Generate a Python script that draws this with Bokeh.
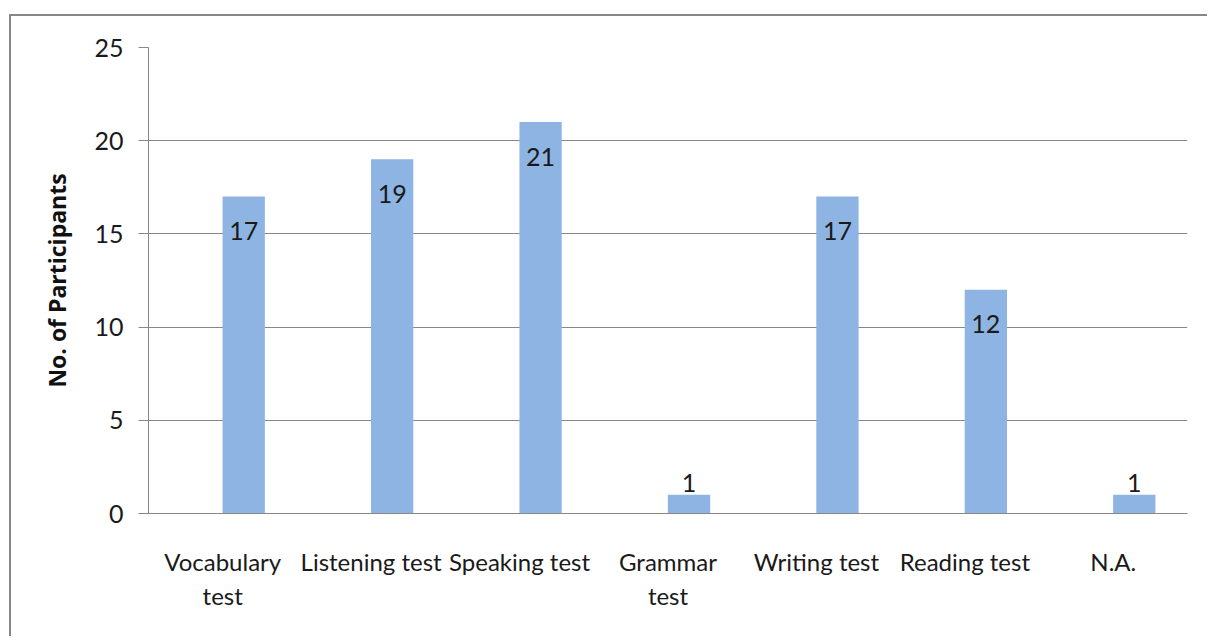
from bokeh.plotting import figure
from bokeh.models import ColumnDataSource, FixedTicker, Range1d
from bokeh.transform import dodge
from bokeh.core.properties import value
from bokeh.embed import file_html
from bokeh.resources import INLINE

categories = ["Vocabulary\ntest", "Listening test", "Speaking test", "Grammar\ntest",
              "Writing test", "Reading test", "N.A."]
participants = [17, 19, 21, 1, 17, 12, 1]
y_ticks = [0, 5, 10, 15, 20, 25]

idx = list(range(len(categories)))
# data labels: inside end for tall bars, just above for tiny bars
label_y = [v - 1.85 if v >= 3 else v + 0.65 for v in participants]
label_txt = [str(v) for v in participants]

src = ColumnDataSource(dict(x=idx, top=participants, ly=label_y, lt=label_txt))

FONT = "Lato"
GRAY = "#878787"
BAR_SHIFT = 0.1415  # bars sit slightly right of the category centre (as in the original)

p = figure(width=1198, height=622, output_backend="svg", toolbar_location=None,
           x_range=Range1d(-0.5, 6.5), y_range=Range1d(0, 25),
           min_border_left=137, min_border_right=22, min_border_top=31, min_border_bottom=125,
           margin=(14, 0, 0, 9),
           styles={"border-left": "2px solid #878787", "border-top": "2px solid #878787"})
p.outline_line_color = None
p.background_fill_color = "white"
p.border_fill_color = "white"

p.vbar(x=dodge("x", BAR_SHIFT), top="top", width=0.285, bottom=0, source=src,
       fill_color="#8EB4E3", line_color=None)

p.text(x=dodge("x", BAR_SHIFT), y="ly", text="lt", source=src, text_align="center",
       text_baseline="middle", text_font=value(FONT), text_font_size="25px",
       text_color="#1a1a1a")

# y axis
p.yaxis.ticker = FixedTicker(ticks=y_ticks)
p.yaxis.axis_line_color = GRAY
p.yaxis.major_tick_line_color = GRAY
p.yaxis.major_tick_out = 10
p.yaxis.major_tick_in = 0
p.yaxis.minor_tick_line_color = None
p.yaxis.major_label_standoff = 15
p.yaxis.major_label_text_font = FONT
p.yaxis.major_label_text_font_size = "25px"
p.yaxis.major_label_text_color = "#1a1a1a"
p.yaxis.axis_label = "No. of Participants"
p.yaxis.axis_label_text_font = "Open Sans"
p.yaxis.axis_label_text_font_style = "bold"
p.yaxis.axis_label_text_font_size = "23px"
p.yaxis.axis_label_text_color = "#111111"
p.yaxis.axis_label_standoff = 18

# x axis
p.xaxis.ticker = FixedTicker(ticks=idx)
p.xaxis.major_label_overrides = {i: c for i, c in zip(idx, categories)}
p.xaxis.axis_line_color = GRAY
p.xaxis.major_tick_line_color = None
p.xaxis.minor_tick_line_color = None
p.xaxis.major_label_standoff = 27
p.xaxis.major_label_text_font = FONT
p.xaxis.major_label_text_font_size = "24px"
p.xaxis.major_label_text_color = "#1a1a1a"

p.xgrid.grid_line_color = None
p.ygrid.ticker = FixedTicker(ticks=y_ticks)
p.ygrid.grid_line_color = GRAY
p.ygrid.grid_line_width = 1

open("out.html", "w").write(file_html(p, INLINE))
